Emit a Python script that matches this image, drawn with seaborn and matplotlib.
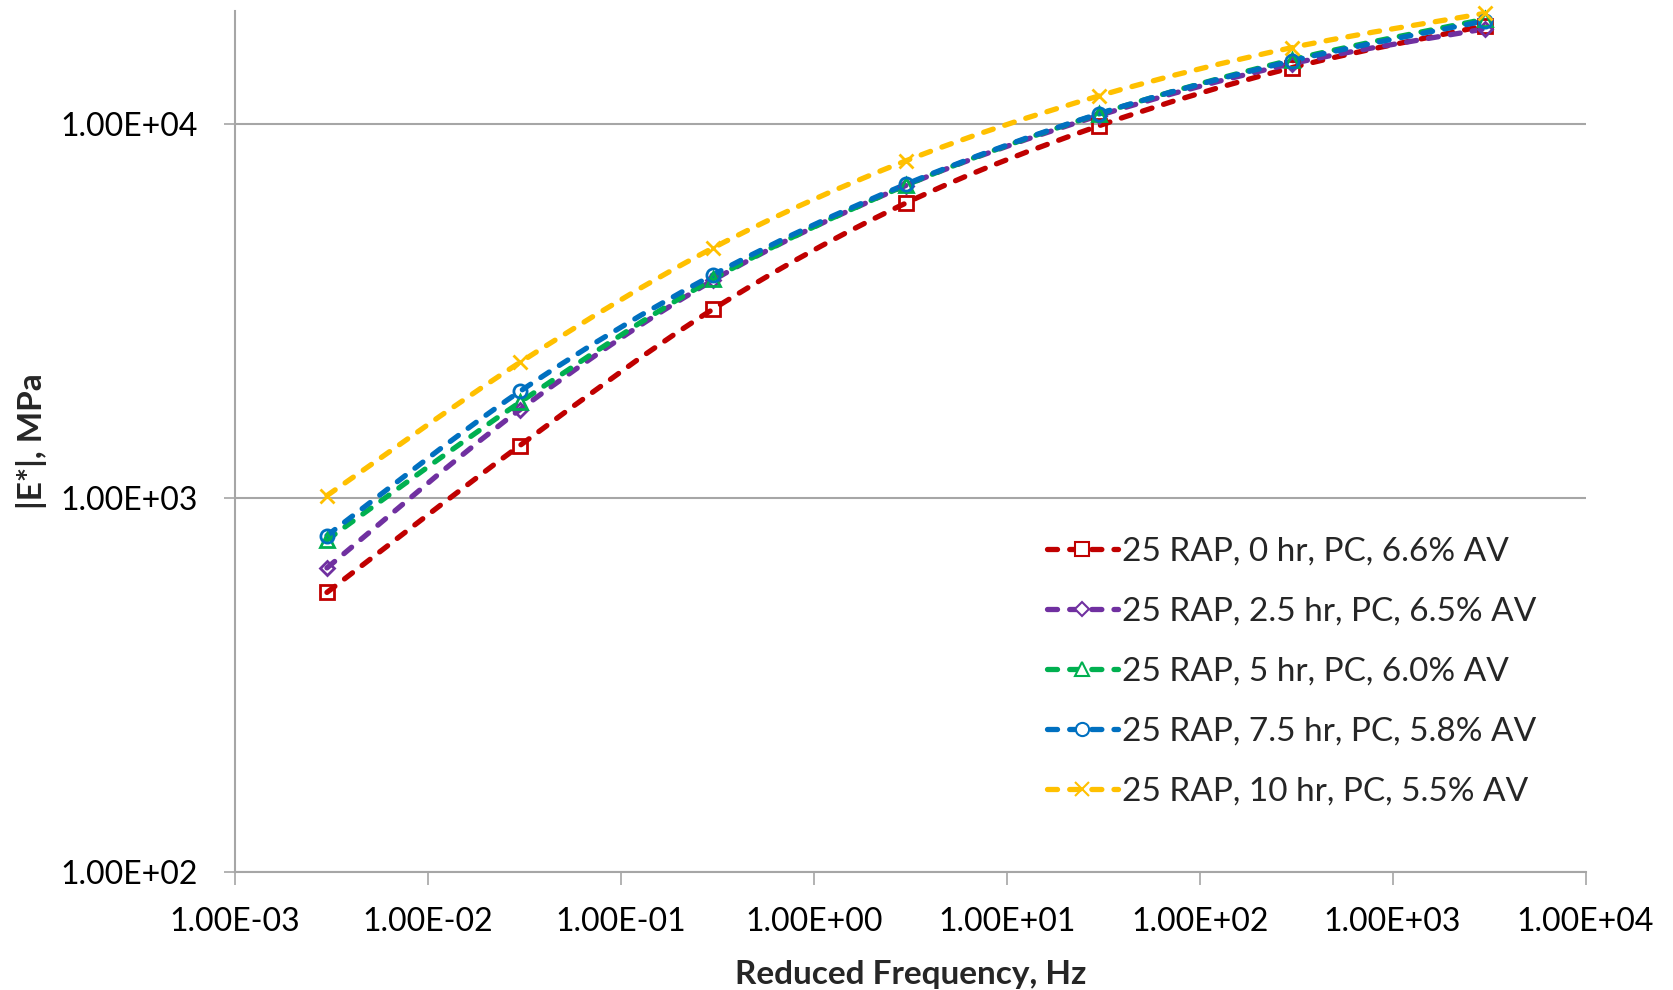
import numpy as np
import pandas as pd
import seaborn as sns
import matplotlib
matplotlib.use("Agg")
import matplotlib.pyplot as plt
from matplotlib.path import Path
from matplotlib.patches import PathPatch
from matplotlib.lines import Line2D
from matplotlib.ticker import FixedLocator, FuncFormatter, NullLocator

# Dynamic modulus master curves
freq_hz = [0.003, 0.03, 0.3, 3, 30, 300, 3000]
e_0hr = [559, 1380, 3190, 6130, 9860, 14100, 18250]
e_2_5hr = [650, 1720, 3810, 6830, 10500, 14450, 17900]
e_5hr = [772, 1800, 3840, 6840, 10600, 14800, 19000]
e_7_5hr = [793, 1925, 3940, 6880, 10620, 14700, 18800]
e_10hr = [1014, 2300, 4650, 7950, 11850, 15950, 19700]

labels = [
    "25 RAP, 0 hr, PC, 6.6% AV",
    "25 RAP, 2.5 hr, PC, 6.5% AV",
    "25 RAP, 5 hr, PC, 6.0% AV",
    "25 RAP, 7.5 hr, PC, 5.8% AV",
    "25 RAP, 10 hr, PC, 5.5% AV",
]
series = [e_0hr, e_2_5hr, e_5hr, e_7_5hr, e_10hr]
colors = ["#C00000", "#7030A0", "#00B050", "#0070C0", "#FFC000"]
markers = ["s", "D", "^", "o", "x"]
marker_sizes = [9.5, 7.5, 9.5, 9.5, 10.5]

x_ticks = [1e-3, 1e-2, 1e-1, 1e0, 1e1, 1e2, 1e3, 1e4]
y_ticks = [1e2, 1e3, 1e4]

sns.set_theme(style="white")
plt.rcParams["font.family"] = ["Lato", "DejaVu Sans"]

fig = plt.figure(figsize=(16.73, 9.90), dpi=100)
ax = fig.add_axes([0.1404, 0.119, 0.8073, 0.870])
ax.set_xscale("log")
ax.set_yscale("log")
ax.set_xlim(1e-3, 1e4)
ax.set_ylim(1e2, 2e4)

grid_col = "#A6A6A6"
line_w = 3.8
dash = (0, (1.9, 2.3))


def smooth_path(xs, ys):
    """Cubic Bezier through the points (Catmull-Rom style) in log-log space."""
    lx = np.log10(np.asarray(xs, float))
    ly = np.log10(np.asarray(ys, float))
    pts = np.column_stack([lx, ly])
    n = len(pts)
    verts = [pts[0]]
    codes = [Path.MOVETO]
    for i in range(n - 1):
        p0 = pts[i - 1] if i > 0 else pts[i]
        p1 = pts[i]
        p2 = pts[i + 1]
        p3 = pts[i + 2] if i + 2 < n else pts[i + 1]
        c1 = p1 + (p2 - p0) / 6.0
        c2 = p2 - (p3 - p1) / 6.0
        verts += [c1, c2, p2]
        codes += [Path.CURVE4] * 3
    verts = 10 ** np.array(verts)
    return Path(verts, codes)


handles = []
for ys, lab, col, mk, ms in zip(series, labels, colors, markers, marker_sizes):
    patch = PathPatch(smooth_path(freq_hz, ys), fill=False, edgecolor=col,
                      linewidth=line_w, linestyle=dash, capstyle="round",
                      zorder=3, clip_on=False)
    ax.add_patch(patch)
    df = pd.DataFrame({"f": freq_hz, "e": ys})
    sns.lineplot(data=df, x="f", y="e", ax=ax, linestyle="none", marker=mk,
                 markersize=ms, markerfacecolor="none", markeredgecolor=col,
                 markeredgewidth=2.0, color=col, legend=False, zorder=4,
                 clip_on=False)
    handles.append(Line2D([], [], color=col, linewidth=line_w, linestyle=dash,
                          marker=mk, markersize=ms, markerfacecolor="white",
                          markeredgecolor=col, markeredgewidth=1.5,
                          dash_capstyle="round"))

# axes styling
for side in ("top", "right"):
    ax.spines[side].set_visible(False)
for side in ("left", "bottom"):
    ax.spines[side].set_color(grid_col)
    ax.spines[side].set_linewidth(1.5)

ax.xaxis.set_major_locator(FixedLocator(x_ticks))
ax.yaxis.set_major_locator(FixedLocator(y_ticks))
ax.xaxis.set_minor_locator(NullLocator())
ax.yaxis.set_minor_locator(NullLocator())
fmt = FuncFormatter(lambda v, p: f"{v:.2E}")
ax.xaxis.set_major_formatter(fmt)
ax.yaxis.set_major_formatter(fmt)

ax.tick_params(axis="x", which="major", direction="out", length=9,
               width=1.2, color=grid_col, pad=16, labelsize=23,
               labelcolor="black", bottom=True)
ax.tick_params(axis="y", which="major", direction="out", length=8,
               width=1.2, color=grid_col, pad=19, labelsize=23,
               labelcolor="black", left=True)

ax.grid(False)
ax.yaxis.grid(True, color=grid_col, linewidth=1.5)
ax.set_axisbelow(True)

ax.set_xlabel("Reduced Frequency, Hz", fontsize=24, fontweight="bold")
ax.set_ylabel("|E*|, MPa", fontsize=24, fontweight="bold")
ax.xaxis.set_label_coords(0.5, -0.102)
ax.yaxis.set_label_coords(-0.139, 0.5)

ax.legend(handles, labels, loc="center left", frameon=False,
          bbox_to_anchor=(0.6258, 0.3212), bbox_transform=fig.transFigure,
          fontsize=24, handlelength=2.13, handletextpad=0.12,
          labelspacing=0.9, borderpad=0.0, borderaxespad=0.0)

fig.savefig("out.png", dpi=100, facecolor="white")
